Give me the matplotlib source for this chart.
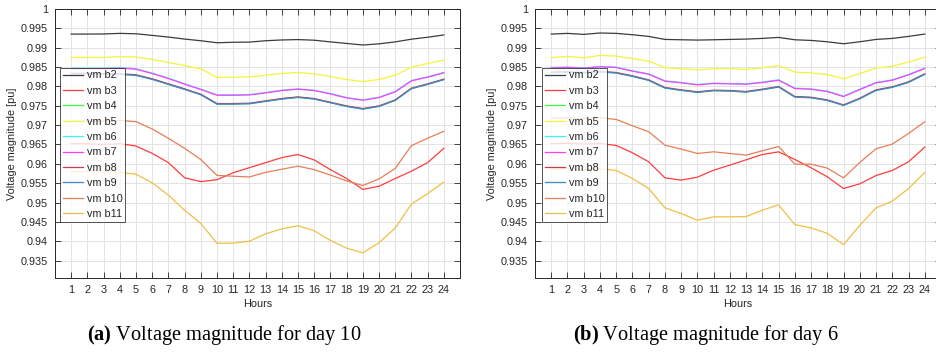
import numpy as np
import matplotlib
matplotlib.use("Agg")
import matplotlib.pyplot as plt

hours = np.arange(1, 25)
labels = ["vm b2", "vm b3", "vm b4", "vm b5", "vm b6", "vm b7", "vm b8", "vm b9", "vm b10", "vm b11"]
colors = ["#3c3c3c", "#ff3c3c", "#3cff3c", "#f4f43a", "#3cf4f4", "#ff3cff",
          "#c4404f", "#3a8ad2", "#e67e56", "#f0be45"]

# day 10
d10_b2 = [0.99352, 0.99352, 0.99355, 0.99370, 0.99360, 0.99318, 0.99275, 0.99223, 0.99180, 0.99128, 0.99140, 0.99145,
          0.99180, 0.99200, 0.99210, 0.99194, 0.99150, 0.99110, 0.99070, 0.99100, 0.99150, 0.99220, 0.99270, 0.99330]
d10_b3 = [0.96520, 0.96520, 0.96500, 0.96520, 0.96460, 0.96270, 0.96030, 0.95640, 0.95540, 0.95590, 0.95770, 0.95900,
          0.96030, 0.96160, 0.96240, 0.96100, 0.95850, 0.95620, 0.95340, 0.95420, 0.95620, 0.95810, 0.96030, 0.96400]
d10_b4 = [0.98330, 0.98330, 0.98320, 0.98316, 0.98290, 0.98187, 0.98057, 0.97927, 0.97789, 0.97547, 0.97547, 0.97556,
          0.97617, 0.97677, 0.97720, 0.97677, 0.97582, 0.97487, 0.97418, 0.97487, 0.97642, 0.97945, 0.98057, 0.98178]
d10_b5 = [0.98748, 0.98748, 0.98748, 0.98770, 0.98760, 0.98695, 0.98617, 0.98540, 0.98454, 0.98230, 0.98238, 0.98247,
          0.98290, 0.98333, 0.98360, 0.98325, 0.98255, 0.98178, 0.98126, 0.98178, 0.98290, 0.98497, 0.98592, 0.98679]
d10_b6 = [0.98470, 0.98470, 0.98470, 0.98482, 0.98456, 0.98343, 0.98214, 0.98067, 0.97929, 0.97782, 0.97782, 0.97790,
          0.97842, 0.97903, 0.97937, 0.97903, 0.97816, 0.97713, 0.97652, 0.97721, 0.97868, 0.98153, 0.98248, 0.98360]
d10_b7 = [0.98460, 0.98460, 0.98460, 0.98472, 0.98446, 0.98333, 0.98204, 0.98057, 0.97919, 0.97772, 0.97772, 0.97780,
          0.97832, 0.97893, 0.97927, 0.97893, 0.97806, 0.97703, 0.97642, 0.97711, 0.97858, 0.98143, 0.98238, 0.98350]
d10_b8 = [0.98340, 0.98340, 0.98330, 0.98326, 0.98300, 0.98197, 0.98067, 0.97937, 0.97799, 0.97557, 0.97557, 0.97566,
          0.97627, 0.97687, 0.97730, 0.97687, 0.97592, 0.97497, 0.97428, 0.97497, 0.97652, 0.97955, 0.98067, 0.98188]
d10_b9 = [0.98325, 0.98325, 0.98315, 0.98311, 0.98285, 0.98182, 0.98052, 0.97922, 0.97784, 0.97542, 0.97542, 0.97551,
          0.97612, 0.97672, 0.97715, 0.97672, 0.97577, 0.97482, 0.97413, 0.97482, 0.97637, 0.97940, 0.98052, 0.98173]
d10_b10 = [0.97100, 0.97100, 0.97100, 0.97120, 0.97090, 0.96900, 0.96660, 0.96400, 0.96110, 0.95700, 0.95680, 0.95660,
           0.95780, 0.95860, 0.95940, 0.95850, 0.95710, 0.95560, 0.95440, 0.95610, 0.95880, 0.96470, 0.96660, 0.96840]
d10_b11 = [0.95800, 0.95800, 0.95790, 0.95780, 0.95730, 0.95510, 0.95190, 0.94800, 0.94460, 0.93946, 0.93950, 0.94000,
           0.94190, 0.94320, 0.94400, 0.94270, 0.94020, 0.93820, 0.93700, 0.93960, 0.94340, 0.94960, 0.95230, 0.95530]

# day 6
d6_b2 = [0.99352, 0.99370, 0.99344, 0.99380, 0.99370, 0.99335, 0.99292, 0.99214, 0.99205, 0.99197, 0.99205, 0.99214,
         0.99223, 0.99240, 0.99266, 0.99205, 0.99188, 0.99153, 0.99102, 0.99153, 0.99214, 0.99240, 0.99292, 0.99352]
d6_b3 = [0.96520, 0.96530, 0.96510, 0.96526, 0.96474, 0.96285, 0.96052, 0.95638, 0.95578, 0.95655, 0.95836, 0.95966,
         0.96104, 0.96241, 0.96310, 0.96112, 0.95897, 0.95664, 0.95362, 0.95483, 0.95698, 0.95828, 0.96052, 0.96431]
d6_b4 = [0.98360, 0.98370, 0.98350, 0.98377, 0.98350, 0.98264, 0.98160, 0.97962, 0.97902, 0.97850, 0.97893, 0.97884,
         0.97858, 0.97919, 0.97988, 0.97729, 0.97711, 0.97642, 0.97513, 0.97686, 0.97902, 0.97980, 0.98109, 0.98316]
d6_b5 = [0.98748, 0.98774, 0.98740, 0.98800, 0.98783, 0.98722, 0.98653, 0.98489, 0.98454, 0.98428, 0.98454, 0.98460,
         0.98437, 0.98480, 0.98540, 0.98368, 0.98350, 0.98307, 0.98195, 0.98333, 0.98472, 0.98523, 0.98627, 0.98756]
d6_b6 = [0.98490, 0.98500, 0.98480, 0.98516, 0.98499, 0.98404, 0.98326, 0.98145, 0.98102, 0.98050, 0.98085, 0.98076,
         0.98067, 0.98110, 0.98170, 0.97955, 0.97937, 0.97877, 0.97747, 0.97929, 0.98102, 0.98170, 0.98309, 0.98473]
d6_b7 = [0.98480, 0.98490, 0.98470, 0.98506, 0.98489, 0.98394, 0.98316, 0.98135, 0.98092, 0.98040, 0.98075, 0.98066,
         0.98057, 0.98100, 0.98160, 0.97945, 0.97927, 0.97867, 0.97737, 0.97919, 0.98092, 0.98160, 0.98299, 0.98463]
d6_b8 = [0.98370, 0.98380, 0.98360, 0.98387, 0.98360, 0.98274, 0.98170, 0.97972, 0.97912, 0.97860, 0.97903, 0.97894,
         0.97868, 0.97929, 0.97998, 0.97739, 0.97721, 0.97652, 0.97523, 0.97696, 0.97912, 0.97990, 0.98119, 0.98326]
d6_b9 = [0.98355, 0.98365, 0.98345, 0.98372, 0.98345, 0.98259, 0.98155, 0.97957, 0.97897, 0.97845, 0.97888, 0.97879,
         0.97853, 0.97914, 0.97983, 0.97724, 0.97706, 0.97637, 0.97508, 0.97681, 0.97897, 0.97975, 0.98104, 0.98311]
d6_b10 = [0.97180, 0.97190, 0.97170, 0.97190, 0.97147, 0.96983, 0.96828, 0.96483, 0.96380, 0.96267, 0.96310, 0.96267,
          0.96224, 0.96336, 0.96448, 0.95991, 0.95991, 0.95888, 0.95638, 0.96035, 0.96388, 0.96509, 0.96784, 0.97086]
d6_b11 = [0.95860, 0.95880, 0.95850, 0.95871, 0.95828, 0.95621, 0.95362, 0.94862, 0.94716, 0.94543, 0.94630, 0.94630,
          0.94638, 0.94802, 0.94940, 0.94430, 0.94344, 0.94205, 0.93912, 0.94410, 0.94862, 0.95035, 0.95362, 0.95776]

day10 = [d10_b2, d10_b3, d10_b4, d10_b5, d10_b6, d10_b7, d10_b8, d10_b9, d10_b10, d10_b11]
day6 = [d6_b2, d6_b3, d6_b4, d6_b5, d6_b6, d6_b7, d6_b8, d6_b9, d6_b10, d6_b11]

plt.rcParams["font.family"] = ["Liberation Sans", "DejaVu Sans"]
plt.rcParams["mathtext.fontset"] = "custom"
plt.rcParams["mathtext.rm"] = "Liberation Serif"
plt.rcParams["mathtext.bf"] = "Liberation Serif:bold"
fs = 7.8
txt = "#262626"

fig = plt.figure(figsize=(9.36, 3.54), dpi=100)
ax1 = fig.add_axes([55 / 936, 76 / 354, 405 / 936, 269 / 354])
ax2 = fig.add_axes([535 / 936, 76 / 354, 406 / 936, 269 / 354])


def draw(ax, series, leg_x):
    for vals, lab, col in zip(series, labels, colors):
        ax.plot(hours, vals, color=col, lw=0.9, label=lab)
    ax.set_xlim(0, 25)
    ax.set_ylim(0.9305, 1.0)
    ax.set_xticks(hours)
    ax.set_yticks(np.arange(0.935, 1.0001, 0.005))
    ax.set_yticklabels(["%g" % round(v, 3) for v in np.arange(0.935, 1.0001, 0.005)])
    ax.grid(True, color="#e3e3e3", lw=0.7)
    ax.set_axisbelow(True)
    ax.tick_params(direction="in", length=4, width=0.6, top=True, right=True,
                   labelsize=fs, labelcolor=txt, color="#262626", pad=5)
    for s in ax.spines.values():
        s.set_color("#262626")
        s.set_linewidth(0.7)
    ax.set_xlabel("Hours", fontsize=fs, color=txt, labelpad=3)
    ax.set_ylabel("Voltage magnitude [pu]", fontsize=fs, color=txt, labelpad=3)
    leg = ax.legend(loc="upper left", bbox_to_anchor=(leg_x, 0.782), borderaxespad=0,
                    fontsize=fs, frameon=True, fancybox=False, edgecolor="#262626",
                    handlelength=1.9, handletextpad=0.3, labelspacing=0.5, borderpad=0.25)
    leg.get_frame().set_linewidth(0.7)
    for t in leg.get_texts():
        t.set_color(txt)


draw(ax1, day10, 5 / 405)
draw(ax2, day6, 7 / 406)

fig.text(224 / 936, 0.054, r"$\mathbf{(a)}$ Voltage magnitude for day 10", ha="center", va="center",
         fontsize=14.7, family="Liberation Serif")
fig.text(706 / 936, 0.054, r"$\mathbf{(b)}$ Voltage magnitude for day 6", ha="center", va="center",
         fontsize=14.7, family="Liberation Serif")

fig.savefig("out.png", dpi=100)
